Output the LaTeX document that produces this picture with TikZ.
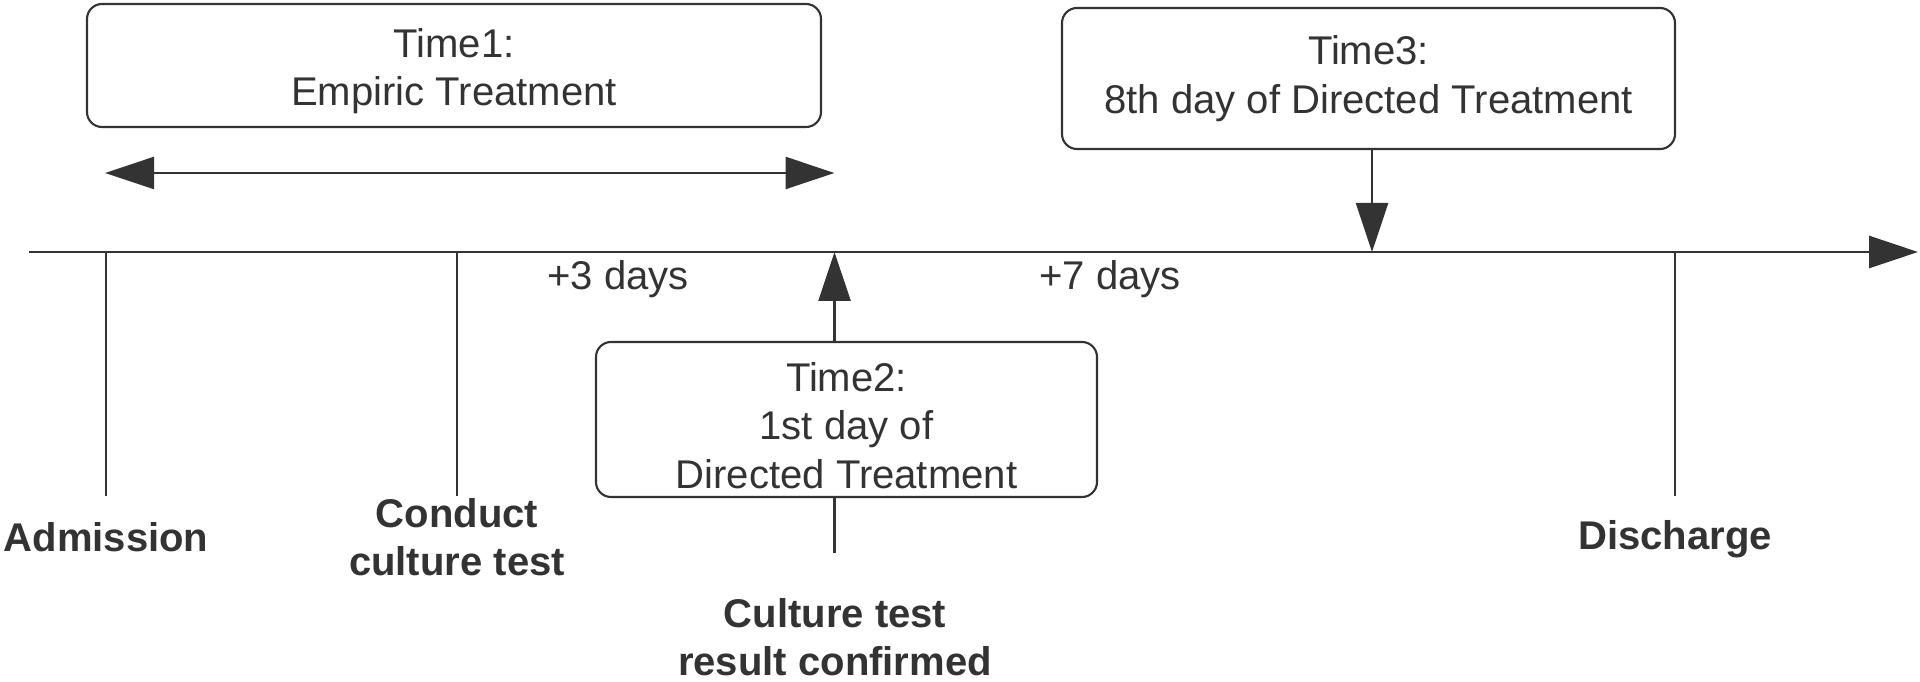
\documentclass[tikz,border=0pt]{standalone}
\usepackage{fontspec}
\setmainfont{Liberation Sans}
\usetikzlibrary{arrows.meta, positioning}
\definecolor{ink}{HTML}{333333}
\newcommand{\lowstrut}{\rule{0pt}{11.6pt}}

\begin{document}
\begin{tikzpicture}[font=\fontsize{11.4}{13.8}\selectfont, color=ink, line width=0.6pt,
    >={Triangle[length=4.9mm, width=3.2mm]},
    timebox/.style={draw, rounded corners=1.5mm, align=center, inner sep=0pt},
    event/.style={font=\fontsize{11.4}{13.7}\selectfont\bfseries, align=center}]
    \useasboundingbox (0,0) rectangle (19.2,6.81);

    \coordinate (ax0) at (0.29,4.29);
    \coordinate (ax1) at (19.18,4.29);
    \draw[->, line width=0.85pt] (ax0) -- (ax1);

    \node[timebox, minimum width=7.34cm, minimum height=1.23cm] (t1) at (4.54,6.155) {\lowstrut Time1:\\Empiric Treatment};
    \node[timebox, minimum width=6.13cm, minimum height=1.41cm] (t3) at (13.685,6.025) {Time3:\\8th day of Directed Treatment};
    \node[timebox, minimum width=5.01cm, minimum height=1.55cm] (t2) at (8.465,2.615) {\lowstrut Time2:\\1st day of\\Directed Treatment};

    \coordinate (res) at (8.345,4.29);
    \coordinate (d8) at (13.72,4.29);
    \coordinate (e0) at (1.05,5.08);
    \coordinate (e1) at (8.345,5.08);
    \draw[<->, line width=0.7pt] (e0) -- (e1);

    \draw[->, line width=0.7pt] (t2.north -| res) -- (res);
    \draw (t2.south -| res) -- ++(0,-0.55);
    \draw[->, line width=0.7pt] (t3.south -| d8) -- (d8);

    \node (p3) at (6.18,4.02) {+3 days};
    \node (p7) at (11.10,4.02) {+7 days};

    \node[event] (adm) at (1.06,1.44) {Admission};
    \node[event] (cult) at (4.57,1.435) {Conduct\\culture test};
    \node[event] (dis) at (16.75,1.42) {Discharge};
    \node[event] (conf) at (8.35,0.435) {Culture test\\result confirmed};

    \draw (adm |- ax0) -- ++(0,-2.44);
    \draw (cult |- ax0) -- ++(0,-2.44);
    \draw (dis |- ax0) -- ++(0,-2.44);
\end{tikzpicture}
\end{document}
